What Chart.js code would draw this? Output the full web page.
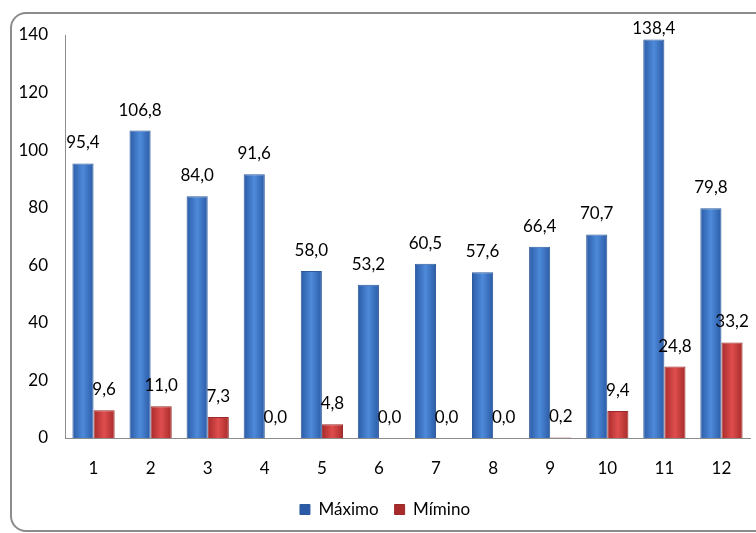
<!DOCTYPE html>
<html>
<head>
<meta charset="utf-8">
<script src="https://cdn.jsdelivr.net/npm/chart.js@4/dist/chart.umd.min.js"></script>
<style>
  html, body { margin: 0; padding: 0; background: #fff; }
  #wrap { position: relative; width: 756px; height: 533px; overflow: hidden; }
  #frame { position: absolute; left: 10px; top: 12px; width: 800px; height: 516px; border: 2px solid #8c8c8c; border-radius: 16px; }
  #chart { position: absolute; left: 0; top: 0; }
</style>
</head>
<body>
<div id="wrap">
  <div id="frame"></div>
  <canvas id="chart" width="756" height="533"></canvas>
</div>
<script>
const meses = ['1', '2', '3', '4', '5', '6', '7', '8', '9', '10', '11', '12'];
const maximo = [95.4, 106.8, 84.0, 91.6, 58.0, 53.2, 60.5, 57.6, 66.4, 70.7, 138.4, 79.8];
const minimo = [9.6, 11.0, 7.3, 0.0, 4.8, 0.0, 0.0, 0.0, 0.2, 9.4, 24.8, 33.2];
const yTicks = [0, 20, 40, 60, 80, 100, 120, 140];

const fontName = 'Lato, "Open Sans", sans-serif';

// horizontal shading on each bar (dark edges, light middle)
function shade(edge, mid, solid) {
  return function (c) {
    const el = c.element;
    if (!el || el.x == null || !el.width) return solid;
    const g = c.chart.ctx.createLinearGradient(el.x - el.width / 2, 0, el.x + el.width / 2, 0);
    g.addColorStop(0, edge);
    g.addColorStop(0.5, mid);
    g.addColorStop(1, edge);
    return g;
  };
}

// value labels above bars
const barLabels = {
  id: 'barLabels',
  afterDatasetsDraw(chart) {
    const ctx = chart.ctx;
    ctx.save();
    ctx.font = '17px ' + fontName;
    ctx.fillStyle = '#000';
    ctx.textAlign = 'center';
    ctx.textBaseline = 'bottom';
    chart.data.datasets.forEach((ds, i) => {
      chart.getDatasetMeta(i).data.forEach((bar, j) => {
        const txt = ds.data[j].toFixed(1).replace('.', ',');
        // keep the tallest label inside the frame
        ctx.fillText(txt, bar.x, Math.max(bar.y - 12, 37));
      });
    });
    ctx.restore();
  }
};

const data_bar = {
  labels: meses,
  datasets: [
    {
      label: 'Máximo',
      data: maximo,
      backgroundColor: shade('#2b5ba6', '#4d8ad9', '#3a71c2'),
      borderColor: '#2d5a9c',
      borderWidth: 1,
      categoryPercentage: 0.74,
      barPercentage: 1.0,
    },
    {
      label: 'Mímino',
      data: minimo,
      backgroundColor: shade('#a82a2a', '#df4e4e', '#c93a3a'),
      borderColor: '#9a2a2a',
      borderWidth: 1,
      categoryPercentage: 0.74,
      barPercentage: 1.0,
    },
  ]
};

const config_bar = {
  type: 'bar',
  data: data_bar,
  plugins: [barLabels],
  options: {
    responsive: false,
    animation: false,
    layout: { padding: { left: 20, right: 6, top: 35, bottom: 5 } },
    plugins: {
      tooltip: { enabled: false },
      legend: {
        position: 'bottom',
        labels: {
          color: '#000',
          font: { family: fontName, size: 17 },
          boxWidth: 10,
          boxHeight: 10,
          padding: 16,
        }
      }
    },
    scales: {
      x: {
        grid: { display: false, drawTicks: false },
        border: { display: true, color: '#8c8c8c', width: 1 },
        ticks: { color: '#000', font: { family: fontName, size: 17 }, padding: 20 },
        afterFit(s) { s.height = 47; }
      },
      y: {
        min: 0,
        max: 140,
        afterBuildTicks(s) { s.ticks = yTicks.map(v => ({ value: v })); },
        grid: { display: false, drawTicks: false },
        border: { display: true, color: '#8c8c8c', width: 1 },
        ticks: { color: '#000', font: { family: fontName, size: 17 }, padding: 17 },
        afterFit(s) { s.width = 45; }
      }
    }
  }
};

const canvas_bar = document.getElementById('chart');
const chart_bar = new Chart(canvas_bar, config_bar);
chart_bar.update();
</script>
</body>
</html>
